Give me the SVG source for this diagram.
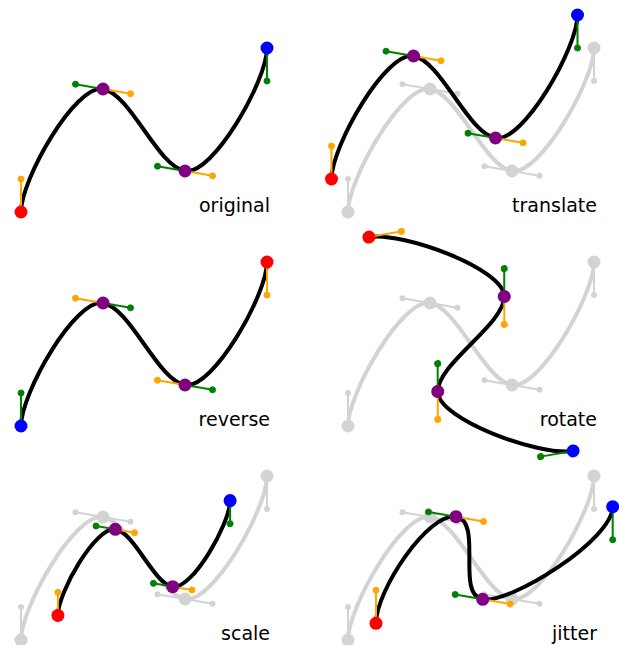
<svg xmlns="http://www.w3.org/2000/svg" xmlns:xlink="http://www.w3.org/1999/xlink" width="619" height="645" viewBox="0 0 619 645">
<style>
.curve{fill:none;stroke:#000;stroke-width:4}
.gcurve{fill:none;stroke:#d3d3d3;stroke-width:4}
.hl{stroke-width:2;fill:none}
.o{stroke:#ffa500;fill:#ffa500}
.g{stroke:#008000;fill:#008000}
.gr{stroke:#d3d3d3;fill:#d3d3d3}
.red{fill:#ff0000}.blue{fill:#0000ff}.pur{fill:#800080}.gray{fill:#d3d3d3}
.lbl{font-family:"DejaVu Sans",Verdana,sans-serif;font-size:19px;text-anchor:end;fill:#000}
</style>
<defs>
<g id="ghost">
<path class="gcurve" d="M21,212 C21,179 75.5,84.2 103,89 C130.5,93.8 157.5,166.2 185,171 C212.5,175.8 267,81 267,48"/>
<g class="gr hl"><path d="M21,212L21,179M103,89L130.5,93.8M185,171L212.5,175.8M103,89L75.5,84.2M185,171L157.5,166.2M267,48L267,81"/></g>
<g class="gray"><circle cx="21" cy="179" r="3"/><circle cx="130.5" cy="93.8" r="3"/><circle cx="212.5" cy="175.8" r="3"/><circle cx="75.5" cy="84.2" r="3"/><circle cx="157.5" cy="166.2" r="3"/><circle cx="267" cy="81" r="3"/>
<circle cx="21" cy="212" r="6.5"/><circle cx="103" cy="89" r="6.5"/><circle cx="185" cy="171" r="6.5"/><circle cx="267" cy="48" r="6.5"/></g>
</g>
<g id="orig">
<path class="curve" d="M21,212 C21,179 75.5,84.2 103,89 C130.5,93.8 157.5,166.2 185,171 C212.5,175.8 267,81 267,48"/>
<g class="o hl"><path d="M21,212L21,179M103,89L130.5,93.8M185,171L212.5,175.8"/></g>
<g class="g hl"><path d="M103,89L75.5,84.2M185,171L157.5,166.2M267,48L267,81"/></g>
<g class="o" stroke="none"><circle cx="21" cy="179" r="3"/><circle cx="130.5" cy="93.8" r="3"/><circle cx="212.5" cy="175.8" r="3"/></g>
<g class="g" stroke="none"><circle cx="75.5" cy="84.2" r="3"/><circle cx="157.5" cy="166.2" r="3"/><circle cx="267" cy="81" r="3"/></g>
<circle class="red" cx="21" cy="212" r="6.5"/><circle class="pur" cx="103" cy="89" r="6.5"/><circle class="pur" cx="185" cy="171" r="6.5"/><circle class="blue" cx="267" cy="48" r="6.5"/>
</g>
</defs>

<g id="original">
<use xlink:href="#orig"/>
<text class="lbl" x="270" y="212">original</text>
</g>

<g id="translate">
<use xlink:href="#ghost" transform="translate(327,0)"/>
<use xlink:href="#orig" transform="translate(310.5,-33)"/>
<text class="lbl" x="597" y="212">translate</text>
</g>

<g id="reverse" transform="translate(0,214)">
<path class="curve" d="M21,212 C21,179 75.5,84.2 103,89 C130.5,93.8 157.5,166.2 185,171 C212.5,175.8 267,81 267,48"/>
<g class="g hl"><path d="M21,212L21,179M103,89L130.5,93.8M185,171L212.5,175.8"/></g>
<g class="o hl"><path d="M103,89L75.5,84.2M185,171L157.5,166.2M267,48L267,81"/></g>
<g class="g" stroke="none"><circle cx="21" cy="179" r="3"/><circle cx="130.5" cy="93.8" r="3"/><circle cx="212.5" cy="175.8" r="3"/></g>
<g class="o" stroke="none"><circle cx="75.5" cy="84.2" r="3"/><circle cx="157.5" cy="166.2" r="3"/><circle cx="267" cy="81" r="3"/></g>
<circle class="blue" cx="21" cy="212" r="6.5"/><circle class="pur" cx="103" cy="89" r="6.5"/><circle class="pur" cx="185" cy="171" r="6.5"/><circle class="red" cx="267" cy="48" r="6.5"/>
<text class="lbl" x="270" y="212">reverse</text>
</g>

<g id="rotate" transform="translate(327,214)">
<use xlink:href="#ghost"/>
<use xlink:href="#orig" transform="rotate(80 144 130)"/>
<text class="lbl" x="270" y="212">rotate</text>
</g>

<g id="scale" transform="translate(0,428)">
<use xlink:href="#ghost"/>
<path class="curve" d="M57.9,187.4 C57.9,164.3 96.05,97.94 115.3,101.3 C134.55,104.66 153.45,155.34 172.7,158.7 C191.95,162.06 230.1,95.7 230.1,72.6"/>
<g class="o hl"><path d="M57.9,187.4L57.9,164.3M115.3,101.3L134.55,104.66M172.7,158.7L191.95,162.06"/></g>
<g class="g hl"><path d="M115.3,101.3L96.05,97.94M172.7,158.7L153.45,155.34M230.1,72.6L230.1,95.7"/></g>
<g class="o" stroke="none"><circle cx="57.9" cy="164.3" r="3"/><circle cx="134.55" cy="104.66" r="3"/><circle cx="191.95" cy="162.06" r="3"/></g>
<g class="g" stroke="none"><circle cx="96.05" cy="97.94" r="3"/><circle cx="153.45" cy="155.34" r="3"/><circle cx="230.1" cy="95.7" r="3"/></g>
<circle class="red" cx="57.9" cy="187.4" r="6.5"/><circle class="pur" cx="115.3" cy="101.3" r="6.5"/><circle class="pur" cx="172.7" cy="158.7" r="6.5"/><circle class="blue" cx="230.1" cy="72.6" r="6.5"/>
<text class="lbl" x="270" y="212">scale</text>
</g>

<g id="jitter" transform="translate(327,428)">
<use xlink:href="#ghost"/>
<path class="curve" d="M49,195.3 C49,162.3 101.5,83.9 129,88.7 C156.5,93.5 128.2,166.5 155.7,171.3 C183.2,176.1 285.7,111.7 285.7,78.7"/>
<g class="o hl"><path d="M49,195.3L49,162.3M129,88.7L156.5,93.5M155.7,171.3L183.2,176.1"/></g>
<g class="g hl"><path d="M129,88.7L101.5,83.9M155.7,171.3L128.2,166.5M285.7,78.7L285.7,111.7"/></g>
<g class="o" stroke="none"><circle cx="49" cy="162.3" r="3"/><circle cx="156.5" cy="93.5" r="3"/><circle cx="183.2" cy="176.1" r="3"/></g>
<g class="g" stroke="none"><circle cx="101.5" cy="83.9" r="3"/><circle cx="128.2" cy="166.5" r="3"/><circle cx="285.7" cy="111.7" r="3"/></g>
<circle class="red" cx="49" cy="195.3" r="6.5"/><circle class="pur" cx="129" cy="88.7" r="6.5"/><circle class="pur" cx="155.7" cy="171.3" r="6.5"/><circle class="blue" cx="285.7" cy="78.7" r="6.5"/>
<text class="lbl" x="270" y="212">jitter</text>
</g>
</svg>
